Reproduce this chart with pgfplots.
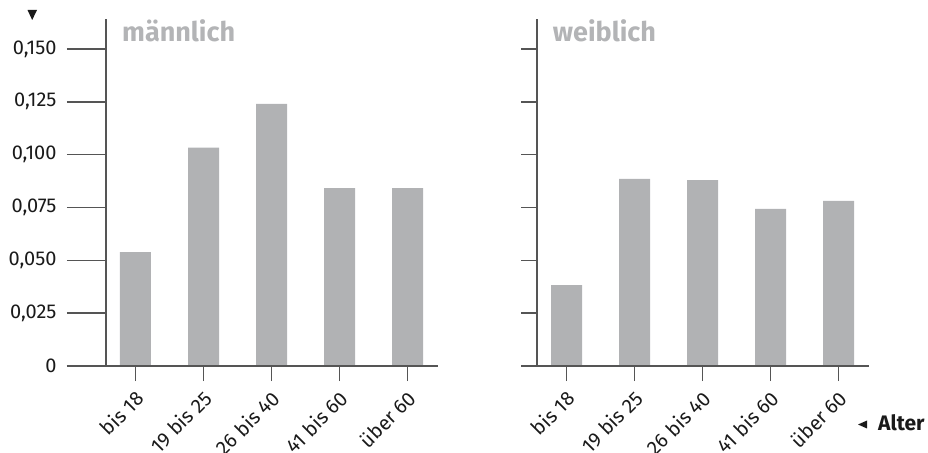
\documentclass[border=0pt]{standalone}
\usepackage{pgfplots}
\pgfplotsset{compat=1.18}
\usepackage{fontspec}
\setmainfont{Fira Sans}
\definecolor{bargray}{HTML}{B1B2B4}
\definecolor{axisgray}{HTML}{555555}
\definecolor{titlegray}{HTML}{B3B4B6}
\definecolor{txt}{HTML}{1A1A1A}
\begin{document}
\begin{tikzpicture}[x=1pt,y=1pt]
\useasboundingbox (0,0) rectangle (928,452);
\pgfplotsset{
  panel/.style={
    scale only axis, width=331.5pt, height=346.6pt,
    xmin=-0.4338, xmax=4.4412, ymin=0, ymax=0.164,
    axis line style={draw=none},
    ybar, bar width=31pt,
    xtick={0,...,4}, xticklabels={bis 18, 19 bis 25, 26 bis 40, 41 bis 60, über 60},
    ytick={0,0.025,0.05,0.075,0.1,0.125,0.15},
    tick align=outside, xtick pos=bottom, ytick pos=left,
    major tick length=15pt,
    tick style={axisgray, line width=1.4pt},
    xticklabel style={xshift=10pt, yshift=-19pt, rotate=45, anchor=base east, text=txt, font=\fontsize{20}{20}\selectfont, inner sep=0pt},
    yticklabel style={text=txt, font=\fontsize{20}{20}\selectfont, xshift=-31pt},
    clip=false,
  }
}
\begin{axis}[panel, at={(106pt,86pt)}, anchor=south west,
  yticklabels={0,{0,025},{0,050},{0,075},{0,100},{0,125},{0,150}}]
\addplot[fill=bargray, draw=none] coordinates {(0,0.0539) (1,0.1033) (2,0.124) (3,0.0842) (4,0.0842)};
\pgfplotsinvokeforeach{0,0.025,0.05,0.075,0.1,0.125,0.15}{
  \draw[axisgray, line width=1.4pt] ([xshift=-39pt]axis cs:-0.4338,#1) -- (axis cs:-0.4338,#1);
}
\draw[axisgray, line width=1.4pt] (rel axis cs:0,1) -- (rel axis cs:0,0);
\draw[axisgray, line width=1.4pt] ([xshift=-39pt]rel axis cs:0,0) -- (rel axis cs:1,0);
\end{axis}
\begin{axis}[panel, at={(537pt,86pt)}, anchor=south west, ymajorticks=false]
\addplot[fill=bargray, draw=none] coordinates {(0,0.0383) (1,0.0885) (2,0.088) (3,0.0743) (4,0.0781)};
\pgfplotsinvokeforeach{0,0.025,0.05,0.075,0.1,0.125,0.15}{
  \draw[axisgray, line width=1.4pt] ([xshift=-16pt]axis cs:-0.4338,#1) -- (axis cs:-0.4338,#1);
}
\draw[axisgray, line width=1.4pt] (rel axis cs:0,1) -- (rel axis cs:0,0);
\draw[axisgray, line width=1.4pt] ([xshift=-16pt]rel axis cs:0,0) -- (rel axis cs:1,0);
\end{axis}
\node[anchor=base west, inner sep=0pt, text=titlegray, font=\bfseries\fontsize{27}{27}\selectfont] at (122,410.3) {männlich};
\node[anchor=base west, inner sep=0pt, text=titlegray, font=\bfseries\fontsize{27}{27}\selectfont] at (552.7,410.3) {weiblich};
\node[anchor=base west, inner sep=0pt, text=txt, font=\bfseries\fontsize{21}{21}\selectfont] at (878,21) {Alter};
\fill[txt] (858,27.5) -- (867,31.5) -- (867,23.5) -- cycle;
\fill[txt] (27.5,442) -- (37,442) -- (32.2,432) -- cycle;
\end{tikzpicture}
\end{document}
